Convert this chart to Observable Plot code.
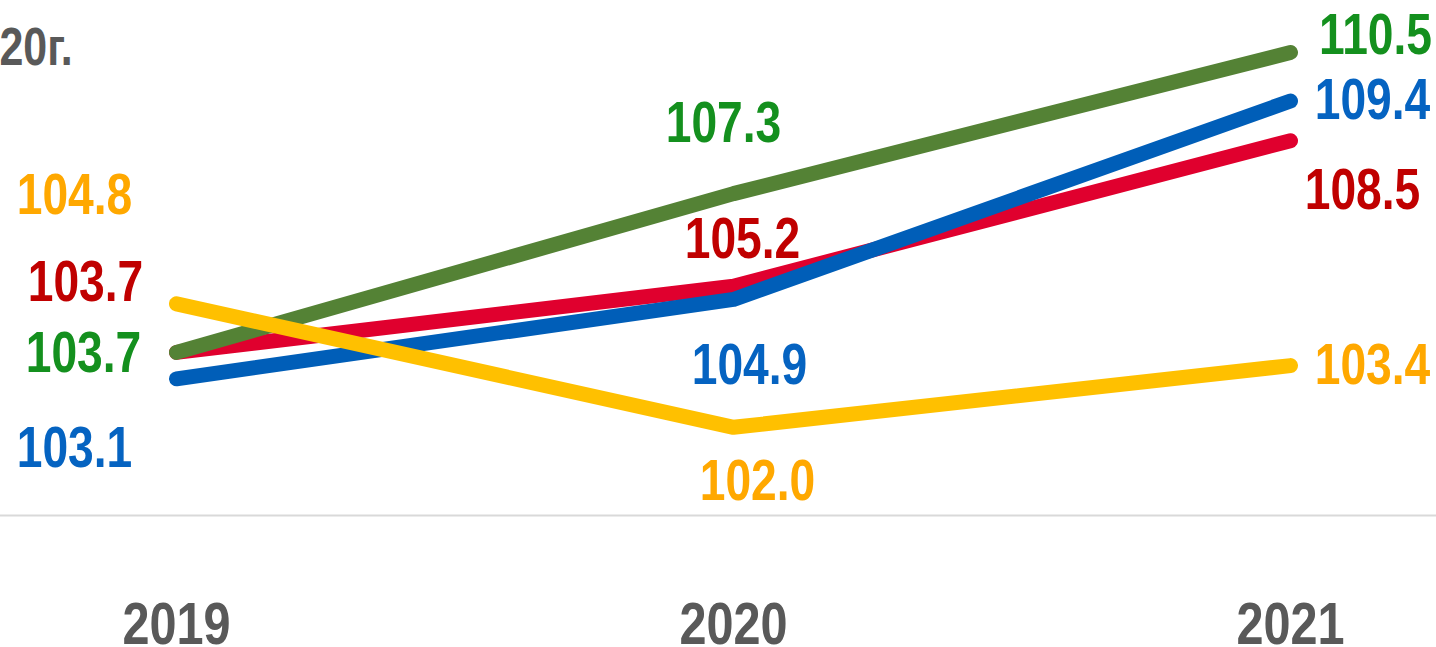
<!DOCTYPE html>
<html>
<head>
<meta charset="utf-8">
<script src="https://cdn.jsdelivr.net/npm/d3@7"></script>
<script src="https://cdn.jsdelivr.net/npm/@observablehq/plot@0.6"></script>
<style>
  html, body { margin: 0; padding: 0; background: #fff; }
  #chart svg { display: block; }
  #chart text { font-family: "Liberation Sans Narrow", "Arial Narrow", "Liberation Sans", Arial, sans-serif; font-weight: bold; }
</style>
</head>
<body>
<div id="chart"></div>
<script>
// ---- data ----
const years = [2019, 2020, 2021];
const titleText = "20г.";
const seriesKeys = ["red", "blue", "green", "yellow"]; // draw order
const greenValues  = [103.7, 107.3, 110.5];
const redValues    = [103.7, 105.2, 108.5];
const blueValues   = [103.1, 104.9, 109.4];
const yellowValues = [104.8, 102.0, 103.4];

// ---- styles ----
const lineColors  = {green: "#548235", red: "#E0002E", blue: "#005EB8", yellow: "#FFC000"};
const labelColors = {green: "#14901E", red: "#C00000", blue: "#0563C1", yellow: "#FFA800"};
// label offsets in px, per series per year
const labelDx = {yellow: [-102, 24, 82], red: [-91, 9, 72], green: [-93, -10, 85], blue: [-102, 16, 82]};
const labelDy = {yellow: [-108, 54, 0], red: [-70, -46, 50], green: [1, -70, -17], blue: [70, 66, 0]};
const narrow = 0.81; // horizontal condensation of text (narrow face)

const valuesOf = {green: greenValues, red: redValues, blue: blueValues, yellow: yellowValues};
const rows = {};
for (const k of seriesKeys) rows[k] = years.map((yr, i) => ({year: yr, value: valuesOf[k][i], series: k}));

const marks = [
  Plot.ruleY([100], {stroke: "#d9d9d9", strokeWidth: 2, insetLeft: -175, insetRight: -146}),
];
for (const k of seriesKeys) {
  marks.push(Plot.line(rows[k], {x: "year", y: "value", stroke: lineColors[k], strokeWidth: 15,
    strokeLinecap: "round", strokeLinejoin: "round"}));
}
for (const k of seriesKeys) {
  rows[k].forEach((d, i) => {
    marks.push(Plot.text([d], {x: "year", y: "value", text: dd => dd.value.toFixed(1),
      fill: labelColors[k], fontSize: 57, fontWeight: "bold",
      dx: labelDx[k][i], dy: labelDy[k][i]}));
  });
}
marks.push(Plot.text([titleText], {frameAnchor: "top-left", text: d => d, textAnchor: "start",
  lineAnchor: "top", dx: -176, dy: 27, fontSize: 53, fontWeight: "bold", fill: "#595959"}));
marks.push(Plot.axisX({tickSize: 0, tickPadding: 86, fontSize: 60, fontWeight: "bold", fill: "#595959",
  tickFormat: d => `${d}`, label: null}));

const chart = Plot.plot({
  width: 1436,
  height: 647,
  marginLeft: 175,
  marginRight: 146,
  marginTop: 0,
  marginBottom: 132,
  x: {type: "point", domain: years, padding: 0},
  y: {domain: [100, 111.68], axis: null},
  style: {background: "#fff", color: "#595959", overflow: "visible"},
  marks
});

// condense every text horizontally around its anchor point
chart.querySelectorAll("text").forEach(t => {
  let tr = t.getAttribute("transform") || "";
  const xa = t.getAttribute("x");
  if (xa != null && !isNaN(+xa)) {
    t.removeAttribute("x");
    tr = `${tr} translate(${+xa},0)`;
  }
  t.setAttribute("transform", `${tr} scale(${narrow},1)`);
});
document.getElementById("chart").appendChild(chart);
</script>
</body>
</html>
